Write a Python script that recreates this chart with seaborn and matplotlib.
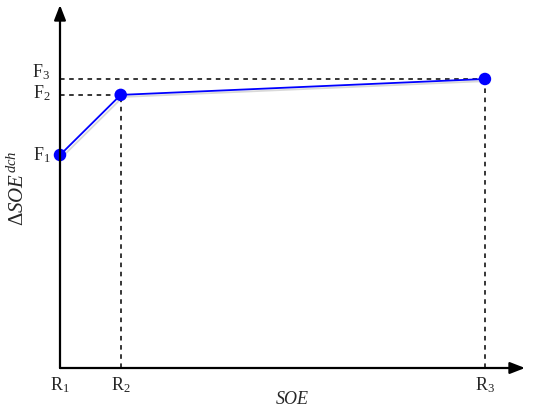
import numpy as np
import pandas as pd
import seaborn as sns
import matplotlib.pyplot as plt
import matplotlib.patheffects as pe

# breakpoints of the piecewise curve
soe = [0.0, 1.0, 7.0]
delta_soe = [0.737, 0.945, 1.0]
x_labels = ["R$_1$", "R$_2$", "R$_3$"]
y_labels = ["F$_1$", "F$_2$", "F$_3$"]

sns.set_style("white")
plt.rcParams["font.family"] = ["Liberation Serif", "DejaVu Serif"]
plt.rcParams["mathtext.fontset"] = "custom"
plt.rcParams["mathtext.rm"] = "Liberation Serif"
plt.rcParams["mathtext.it"] = "Liberation Serif:italic"

fig = plt.figure(figsize=(5.5, 4.15), dpi=100)
ax = fig.add_axes([60 / 550, 47 / 415, 465 / 550, 363 / 415])
ax.set_xlim(0, 7.66)
ax.set_ylim(0, 1.256)
ax.axis("off")

shadow = [pe.SimpleLineShadow(offset=(1.5, -1.5), alpha=0.15), pe.Normal()]

# dashed guides to the axes
for x, y in zip(soe[1:], delta_soe[1:]):
    ax.plot([x, x], [0, y], ls=(0, (3, 3)), color="black", lw=1.1, zorder=1)
    ax.plot([0, x], [y, y], ls=(0, (3, 3)), color="black", lw=1.1, zorder=1)

df = pd.DataFrame({"soe": soe, "delta": delta_soe})
sns.lineplot(data=df, x="soe", y="delta", ax=ax, color="#0000ff", lw=1.3,
             marker="o", markersize=9, markeredgewidth=0, clip_on=False,
             path_effects=shadow, zorder=3)

# axes drawn as arrows
arrow = dict(arrowstyle="-|>,head_length=0.9,head_width=0.35", color="black", lw=1.6,
             shrinkA=0, shrinkB=0)
ax.annotate("", xy=(1, 0), xytext=(0, 0), xycoords="axes fraction", arrowprops=arrow)
ax.annotate("", xy=(0, 1), xytext=(0, 0), xycoords="axes fraction", arrowprops=arrow)

for x, lab in zip(soe, x_labels):
    ax.annotate(lab, xy=(x, 0), xytext=(0, -5), textcoords="offset points",
                ha="center", va="top", fontsize=13)
# F3 and F2 sit close together, so F3 is nudged up a little
for y, lab, dy in zip(delta_soe, y_labels, [0, 1, 5]):
    ax.annotate(lab, xy=(0, y), xytext=(-7, dy), textcoords="offset points",
                ha="right", va="center", fontsize=13)

ax.annotate("SOE", xy=(0.5, 0), xycoords="axes fraction", xytext=(0, -23),
            textcoords="offset points", ha="center", va="center", fontsize=13,
            style="italic")
fig.text(18 / 550, 1 - 188 / 415, r"$\Delta SOE^{dch}$", rotation=90,
         ha="center", va="center", fontsize=15)

fig.savefig("out.png", dpi=100)
